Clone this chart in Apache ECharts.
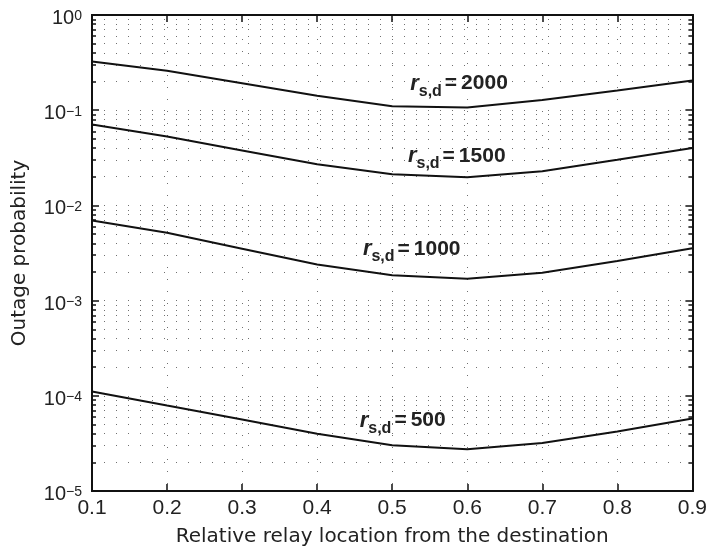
<!DOCTYPE html>
<html>
<head>
<meta charset="utf-8">
<script src="https://cdn.jsdelivr.net/npm/echarts@6/dist/echarts.min.js"></script>
<style>
html, body { margin: 0; padding: 0; background: #fff; }
#chart { width: 710px; height: 552px; }
</style>
</head>
<body>
<div id="chart"></div>
<script>
// relay location (x) and outage probability for each source-destination distance
var relayLoc = [0.1, 0.2, 0.3, 0.4, 0.5, 0.6, 0.7, 0.8, 0.9];
var out2000 = [0.324, 0.259, 0.192, 0.142, 0.110, 0.107, 0.128, 0.161, 0.205];
var out1500 = [0.0708, 0.0530, 0.0378, 0.0270, 0.0212, 0.0197, 0.0228, 0.0302, 0.0401];
var out1000 = [0.00693, 0.00515, 0.00351, 0.00239, 0.00185, 0.00170, 0.00196, 0.00260, 0.00355];
var out500 = [1.11e-4, 7.9e-5, 5.65e-5, 4.0e-5, 3.03e-5, 2.75e-5, 3.2e-5, 4.22e-5, 5.78e-5];
var distances = ['2000', '1500', '1000', '500'];
// where each curve label sits, in data coordinates
var labelAt = [[0.589, 0.19], [0.586, 0.033], [0.526, 0.0035], [0.514, 5.5e-5]];

var decades = [1e-5, 1e-4, 1e-3, 1e-2, 1e-1, 1];
var minorTicks = [];
for (var d = 0; d < decades.length - 1; d++) {
    for (var m = 2; m <= 9; m++) {
        minorTicks.push(+(decades[d] * m).toPrecision(3));
    }
}

var FONT = "'Liberation Sans', Arial, sans-serif";
var TITLE_FONT = "'DejaVu Sans', sans-serif";
var dotted = { color: '#707070', width: 1, type: [1, 11] };

var chart = echarts.init(document.getElementById('chart'));

function yAxisDef(pos, ticks, len, withLabel, grid) {
    return {
        type: 'log',
        logBase: 10,
        min: 1e-5,
        max: 1,
        position: pos,
        name: withLabel ? 'Outage probability' : '',
        nameLocation: 'middle',
        nameGap: 62,
        nameTextStyle: { fontFamily: TITLE_FONT, fontSize: 20, color: '#222' },
        axisLine: { show: true, onZero: false, lineStyle: { color: '#111', width: 2 } },
        axisTick: { show: true, inside: true, length: len, customValues: ticks, lineStyle: { color: '#111', width: 1.5 } },
        axisLabel: {
            show: withLabel,
            customValues: decades,
            margin: 10,
            padding: [8, 0, 0, 0],
            formatter: function (v) {
                var e = Math.round(Math.log10(v));
                return '{b|10}{e|' + (e < 0 ? '\u2212' + (-e) : e) + '}';
            },
            rich: {
                b: { fontFamily: FONT, fontSize: 20, lineHeight: 19, color: '#222', verticalAlign: 'bottom' },
                e: { fontFamily: FONT, fontSize: 14, lineHeight: 13, color: '#222', verticalAlign: 'top', padding: [0, 0, 8, 0] }
            }
        },
        splitLine: { show: grid, lineStyle: dotted }
    };
}

function curve(name, data, idx) {
    return {
        name: name,
        type: 'line',
        data: relayLoc.map(function (x, i) { return [x, data[i]]; }),
        symbol: 'none',
        lineStyle: { color: '#111', width: 2 },
        z: 5,
        markPoint: {
            symbol: 'circle',
            symbolSize: 0,
            label: {
                show: true,
                position: 'inside',
                formatter: '{r|r}{s|s,d}{q|=}{n|' + name + '}',
                rich: {
                    r: { fontFamily: FONT, fontSize: 22, fontStyle: 'italic', fontWeight: 'bold', color: '#222', lineHeight: 32 },
                    s: { fontFamily: FONT, fontSize: 16, fontWeight: 'bold', color: '#222', lineHeight: 16, verticalAlign: 'bottom' },
                    q: { fontFamily: FONT, fontSize: 21, fontWeight: 'bold', color: '#222', lineHeight: 32, padding: [0, 4, 0, 3] },
                    n: { fontFamily: FONT, fontSize: 21, fontWeight: 'bold', color: '#222', lineHeight: 32 }
                }
            },
            data: [{ coord: labelAt[idx], value: name }]
        }
    };
}

var option = {
    backgroundColor: '#fff',
    animation: false,
    grid: { left: 92, right: 16, top: 15, bottom: 61 },
    xAxis: [{
        type: 'value',
        min: 0.1,
        max: 0.9,
        interval: 0.1,
        position: 'bottom',
        name: 'Relative relay location from the destination',
        nameLocation: 'middle',
        nameGap: 36,
        nameTextStyle: { fontFamily: TITLE_FONT, fontSize: 20, color: '#222' },
        axisLine: { show: true, onZero: false, lineStyle: { color: '#111', width: 2 } },
        axisTick: { show: true, inside: true, length: 7, lineStyle: { color: '#111', width: 1.5 } },
        axisLabel: {
            margin: 7,
            fontFamily: FONT,
            fontSize: 21,
            color: '#222',
            formatter: function (v) { return v.toFixed(1); }
        },
        splitLine: { show: true, lineStyle: dotted }
    }, {
        type: 'value',
        min: 0.1,
        max: 0.9,
        interval: 0.1,
        position: 'top',
        axisLine: { show: true, onZero: false, lineStyle: { color: '#111', width: 2 } },
        axisTick: { show: true, inside: true, length: 7, lineStyle: { color: '#111', width: 1.5 } },
        axisLabel: { show: false },
        splitLine: { show: false }
    }],
    yAxis: [
        yAxisDef('left', decades, 7, true, true),
        yAxisDef('left', minorTicks, 4, false, true),
        yAxisDef('right', decades, 7, false, false),
        yAxisDef('right', minorTicks, 4, false, false)
    ],
    series: [
        curve(distances[0], out2000, 0),
        curve(distances[1], out1500, 1),
        curve(distances[2], out1000, 2),
        curve(distances[3], out500, 3)
    ]
};

chart.setOption(option);
</script>
</body>
</html>
